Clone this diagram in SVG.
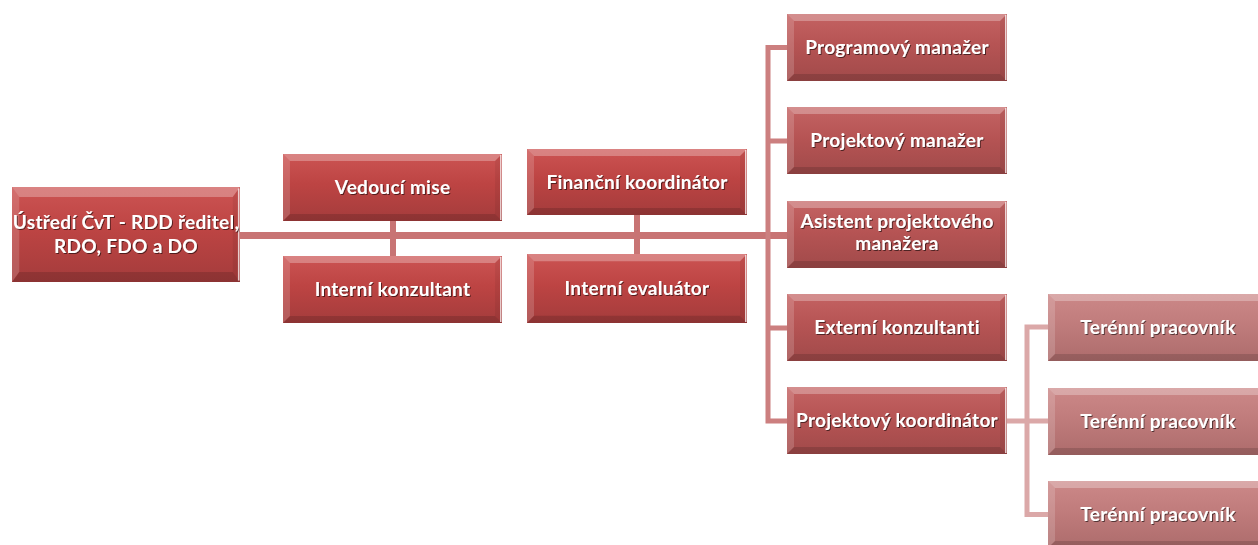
<svg xmlns="http://www.w3.org/2000/svg" xmlns:xlink="http://www.w3.org/1999/xlink" width="1258" height="545" viewBox="0 0 1258 545">
<defs>
<linearGradient id="gRed" x1="0" y1="0" x2="0" y2="1">
<stop offset="0" stop-color="#cc5453"/><stop offset="0.45" stop-color="#bd4443"/><stop offset="1" stop-color="#a43c3c"/>
</linearGradient>
<linearGradient id="gMid" x1="0" y1="0" x2="0" y2="1">
<stop offset="0" stop-color="#c46363"/><stop offset="0.45" stop-color="#b65454"/><stop offset="1" stop-color="#a14a4a"/>
</linearGradient>
<linearGradient id="gPale" x1="0" y1="0" x2="0" y2="1">
<stop offset="0" stop-color="#cc8888"/><stop offset="0.45" stop-color="#c07c7c"/><stop offset="1" stop-color="#ad6c6c"/>
</linearGradient>
<symbol id="bev" viewBox="0 0 220 67" preserveAspectRatio="none">
<polygon points="0,0 220,0 213,7 7,7" fill="#fff" fill-opacity="0.28"/>
<polygon points="0,0 7,7 7,60 0,67" fill="#fff" fill-opacity="0.16"/>
<polygon points="220,0 220,67 213,60 213,7" fill="#000" fill-opacity="0.06"/>
<polygon points="0,67 7,60 213,60 220,67" fill="#000" fill-opacity="0.14"/>
<rect x="218" y="1" width="1.5" height="65" fill="#fff" fill-opacity="0.75"/>
</symbol>
<filter id="sh" x="-10%" y="-30%" width="120%" height="160%">
<feDropShadow dx="1" dy="1" stdDeviation="0.7" flood-color="#000" flood-opacity="0.55"/>
</filter>
</defs>
<style>
.t{font-family:Lato,"Liberation Sans",sans-serif;font-weight:bold;font-size:19px;letter-spacing:0.3px;fill:#fff;text-anchor:middle;filter:url(#sh)}
.r{fill:url(#gRed)}
.m{fill:url(#gMid)}
.p{fill:url(#gPale)}
.c1{stroke:#c87474;fill:none}
.c2{stroke:#cc7f7f;fill:none;stroke-width:5}
.c3{stroke:#dba8a8;fill:none;stroke-width:5}
</style>
<rect width="1258" height="545" fill="#fff"/>
<g id="connectors">
<line class="c1" x1="240" y1="235.5" x2="787" y2="235.5" stroke-width="7"/>
<line class="c1" x1="393" y1="221" x2="393" y2="256" stroke-width="6"/>
<line class="c1" x1="637" y1="215" x2="637" y2="254" stroke-width="6"/>
<path class="c2" d="M787,47.5 H768 V421 H787 M768,141 H787 M768,328 H787"/>
<path class="c3" d="M1007,421 H1027 M1048,327 H1027 V514.5 H1048 M1027,421 H1048"/>
</g>
<g id="n1"><rect class="r" x="12" y="187" width="228" height="95"/><use href="#bev" x="12" y="187" width="228" height="95"/><text class="t" x="126" y="229" letter-spacing="0">Ústředí ČvT - RDD ředitel,</text><text class="t" x="126" y="253">RDO, FDO a DO</text></g>
<g id="n2"><rect class="r" x="283" y="154" width="219" height="67"/><use href="#bev" x="283" y="154" width="219" height="67"/><text class="t" x="392.5" y="194">Vedoucí mise</text></g>
<g id="n3"><rect class="r" x="283" y="256" width="219" height="67"/><use href="#bev" x="283" y="256" width="219" height="67"/><text class="t" x="392.5" y="296">Interní konzultant</text></g>
<g id="n4"><rect class="r" x="527" y="149" width="220" height="66"/><use href="#bev" x="527" y="149" width="220" height="66"/><text class="t" x="637" y="189">Finanční koordinátor</text></g>
<g id="n5"><rect class="r" x="527" y="254" width="220" height="69"/><use href="#bev" x="527" y="254" width="220" height="69"/><text class="t" x="637" y="295">Interní evaluátor</text></g>
<g id="n6"><rect class="m" x="787" y="14" width="220" height="67"/><use href="#bev" x="787" y="14" width="220" height="67"/><text class="t" x="897" y="54">Programový manažer</text></g>
<g id="n7"><rect class="m" x="787" y="107" width="220" height="67"/><use href="#bev" x="787" y="107" width="220" height="67"/><text class="t" x="897" y="147">Projektový manažer</text></g>
<g id="n8"><rect class="m" x="787" y="201" width="220" height="67"/><use href="#bev" x="787" y="201" width="220" height="67"/><text class="t" x="897" y="228">Asistent projektového</text><text class="t" x="897" y="250">manažera</text></g>
<g id="n9"><rect class="m" x="787" y="294" width="220" height="67"/><use href="#bev" x="787" y="294" width="220" height="67"/><text class="t" x="897" y="334">Externí konzultanti</text></g>
<g id="n10"><rect class="m" x="787" y="387" width="220" height="67"/><use href="#bev" x="787" y="387" width="220" height="67"/><text class="t" x="897" y="427">Projektový koordinátor</text></g>
<g id="n11"><rect class="p" x="1048" y="294" width="220" height="67"/><use href="#bev" x="1048" y="294" width="220" height="67"/><text class="t" x="1158" y="334">Terénní pracovník</text></g>
<g id="n12"><rect class="p" x="1048" y="388" width="220" height="67"/><use href="#bev" x="1048" y="388" width="220" height="67"/><text class="t" x="1158" y="428">Terénní pracovník</text></g>
<g id="n13"><rect class="p" x="1048" y="481" width="220" height="67"/><use href="#bev" x="1048" y="481" width="220" height="67"/><text class="t" x="1158" y="521">Terénní pracovník</text></g>
</svg>
